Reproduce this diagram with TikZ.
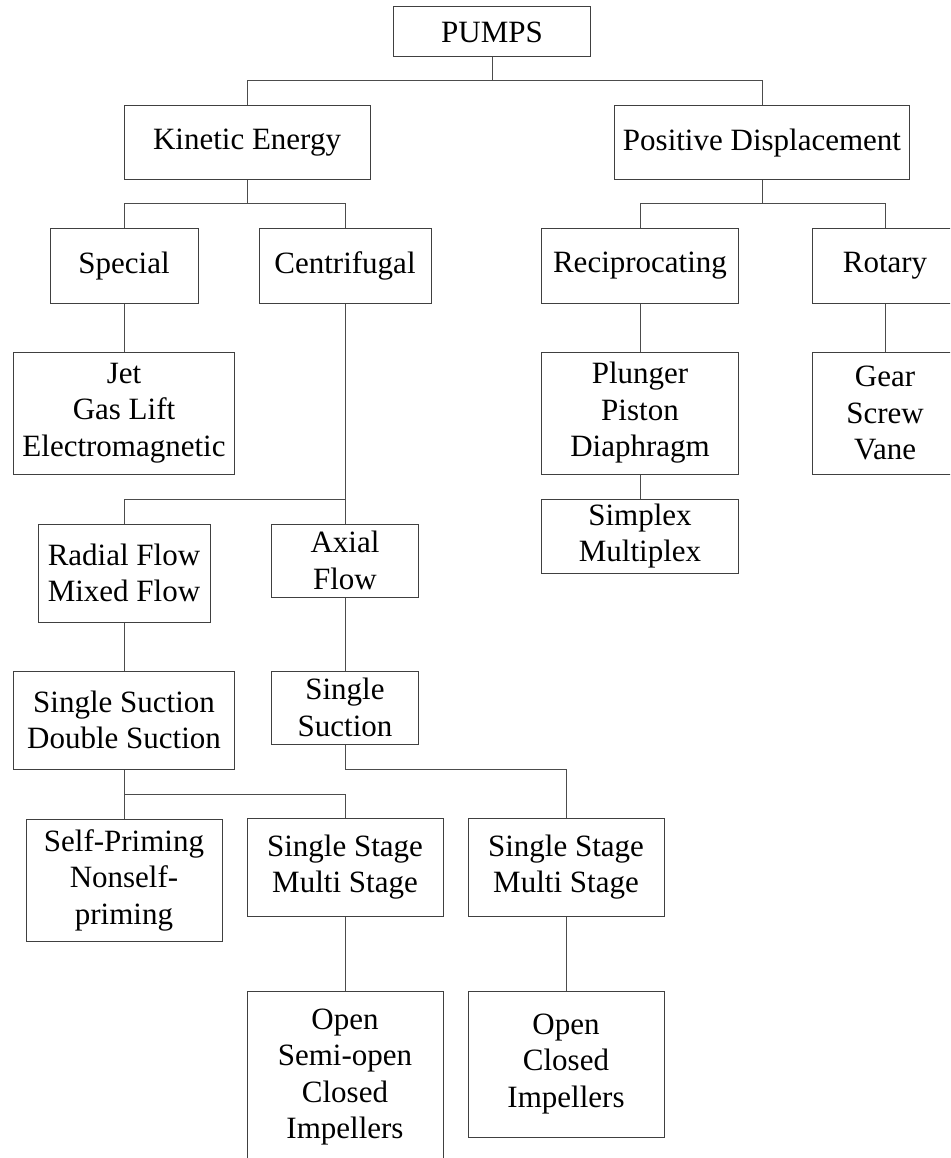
\documentclass[tikz,border=0pt]{standalone}
\usepackage{fontspec}
\setmainfont{Liberation Serif}
\begin{document}
\begin{tikzpicture}[x=1pt,y=-1pt,
  box/.style={draw=black!75, line width=1pt, align=center, inner sep=0pt,
    font=\fontsize{31}{36.5}\selectfont},
  link/.style={draw=black!70, line width=1pt}]
\useasboundingbox (0,0) rectangle (950,1158);
\clip (0,0) rectangle (950,1158);

% boxes: centre, width, height
\node[box, minimum width=197, minimum height=50] (pumps) at (492,32) {PUMPS};
\node[box, minimum width=246, minimum height=74] (kin) at (247,143) {Kinetic Energy};
\node[box, minimum width=295, minimum height=74] (pd) at (762,143) {Positive Displacement};
\node[box, minimum width=148, minimum height=74] (special) at (124,266) {Special};
\node[box, minimum width=172, minimum height=74] (centri) at (345,266) {Centrifugal};
\node[box, minimum width=197, minimum height=74] (recip) at (640,266) {Reciprocating};
\node[box, minimum width=146, minimum height=74] (rotary) at (885,266) {Rotary};
\node[box, minimum width=221, minimum height=122] (jet) at (124,413) {Jet\\Gas Lift\\Electromagnetic};
\node[box, minimum width=197, minimum height=122] (plunger) at (640,413) {Plunger\\Piston\\Diaphragm};
\node[box, minimum width=146, minimum height=122] (gear) at (885,413) {Gear\\Screw\\Vane};
\node[box, minimum width=197, minimum height=74] (simplex) at (640,536) {Simplex\\Multiplex};
\node[box, minimum width=172, minimum height=98] (radial) at (124,573) {Radial Flow\\Mixed Flow};
\node[box, minimum width=147, minimum height=73] (axial) at (345,560.5) {Axial\\Flow};
\node[box, minimum width=221, minimum height=98] (ssds) at (124,720) {Single Suction\\Double Suction};
\node[box, minimum width=147, minimum height=73] (ss) at (345,707.5) {Single\\Suction};
\node[box, minimum width=196, minimum height=122] (selfp) at (124,880) {Self-Priming\\Nonself-\\priming};
\node[box, minimum width=196, minimum height=98] (stageA) at (345,867) {Single Stage\\Multi Stage};
\node[box, minimum width=196, minimum height=98] (stageB) at (566,867) {Single Stage\\Multi Stage};
\node[box, minimum width=196, minimum height=172] (openA) at (345,1077) {Open\\Semi-open\\Closed\\Impellers};
\node[box, minimum width=196, minimum height=146] (openB) at (566,1064) {Open\\Closed\\Impellers};

% branch points
\coordinate (b0) at (492,81);
\coordinate (b1) at (247,204);
\coordinate (b2) at (762,204);
\coordinate (b3) at (345,499);
\coordinate (b4) at (124,794);
\coordinate (b5) at (345,769);

% connectors
\path[link] (pumps.south) -- (b0) -| (kin.north);
\path[link] (b0) -| (pd.north);
\path[link] (kin.south) -- (b1) -| (special.north);
\path[link] (b1) -| (centri.north);
\path[link] (pd.south) -- (b2) -| (recip.north);
\path[link] (b2) -| (rotary.north);
\path[link] (special.south) -- (jet.north);
\path[link] (recip.south) -- (plunger.north);
\path[link] (rotary.south) -- (gear.north);
\path[link] (plunger.south) -- (simplex.north);
\path[link] (centri.south) -- (b3) -| (radial.north);
\path[link] (b3) -- (axial.north);
\path[link] (radial.south) -- (ssds.north);
\path[link] (axial.south) -- (ss.north);
\path[link] (ssds.south) -- (b4) -| (stageA.north);
\path[link] (b4) -- (selfp.north);
\path[link] (ss.south) -- (b5) -| (stageB.north);
\path[link] (stageA.south) -- (openA.north);
\path[link] (stageB.south) -- (openB.north);
\end{tikzpicture}
\end{document}
